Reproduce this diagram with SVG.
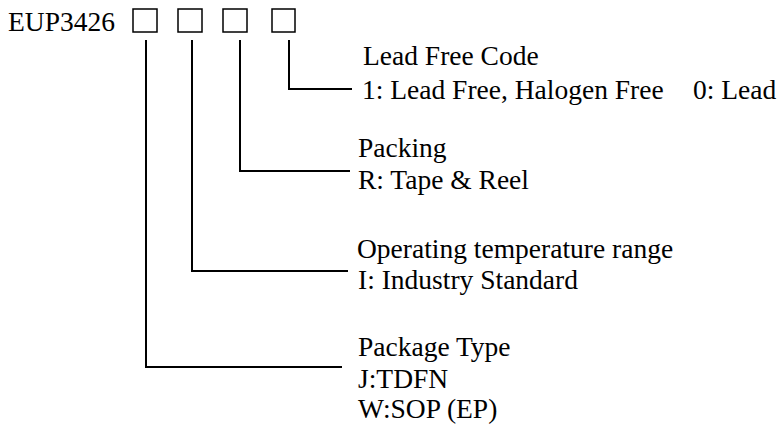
<svg xmlns="http://www.w3.org/2000/svg" width="780" height="427" viewBox="0 0 780 427">
<style>
text{font-family:"Liberation Serif","Times New Roman",serif;font-size:27.5px;fill:#000}
.box{fill:none;stroke:#000;stroke-width:1.5}
.c{fill:none;stroke:#000;stroke-width:2}
</style>
<rect width="780" height="427" fill="#fff"/>
<g id="part">
<text x="8" y="31">EUP3426</text>
<rect class="box" x="133" y="9" width="24" height="23"/>
<rect class="box" x="178" y="9" width="24" height="23"/>
<rect class="box" x="223" y="9" width="24" height="23"/>
<rect class="box" x="272" y="9" width="23" height="23"/>
</g>
<g id="connectors">
<polyline class="c" points="289,40 289,89 352,89"/>
<polyline class="c" points="240,40 240,171 350,171"/>
<polyline class="c" points="192,40 192,271 348,271"/>
<polyline class="c" points="146,40 146,367 342,367"/>
</g>
<g id="lead">
<text x="363" y="65">Lead Free Code</text>
<text x="362" y="99">1: Lead Free, Halogen Free<tspan x="693">0: Lead</tspan></text>
</g>
<g id="packing">
<text x="358" y="157">Packing</text>
<text x="358" y="189">R: Tape &amp; Reel</text>
</g>
<g id="temp">
<text x="357" y="258">Operating temperature range</text>
<text x="358" y="289">I: Industry Standard</text>
</g>
<g id="package">
<text x="358" y="356">Package Type</text>
<text x="358" y="388">J:TDFN</text>
<text x="358" y="418">W:SOP (EP)</text>
</g>
</svg>
